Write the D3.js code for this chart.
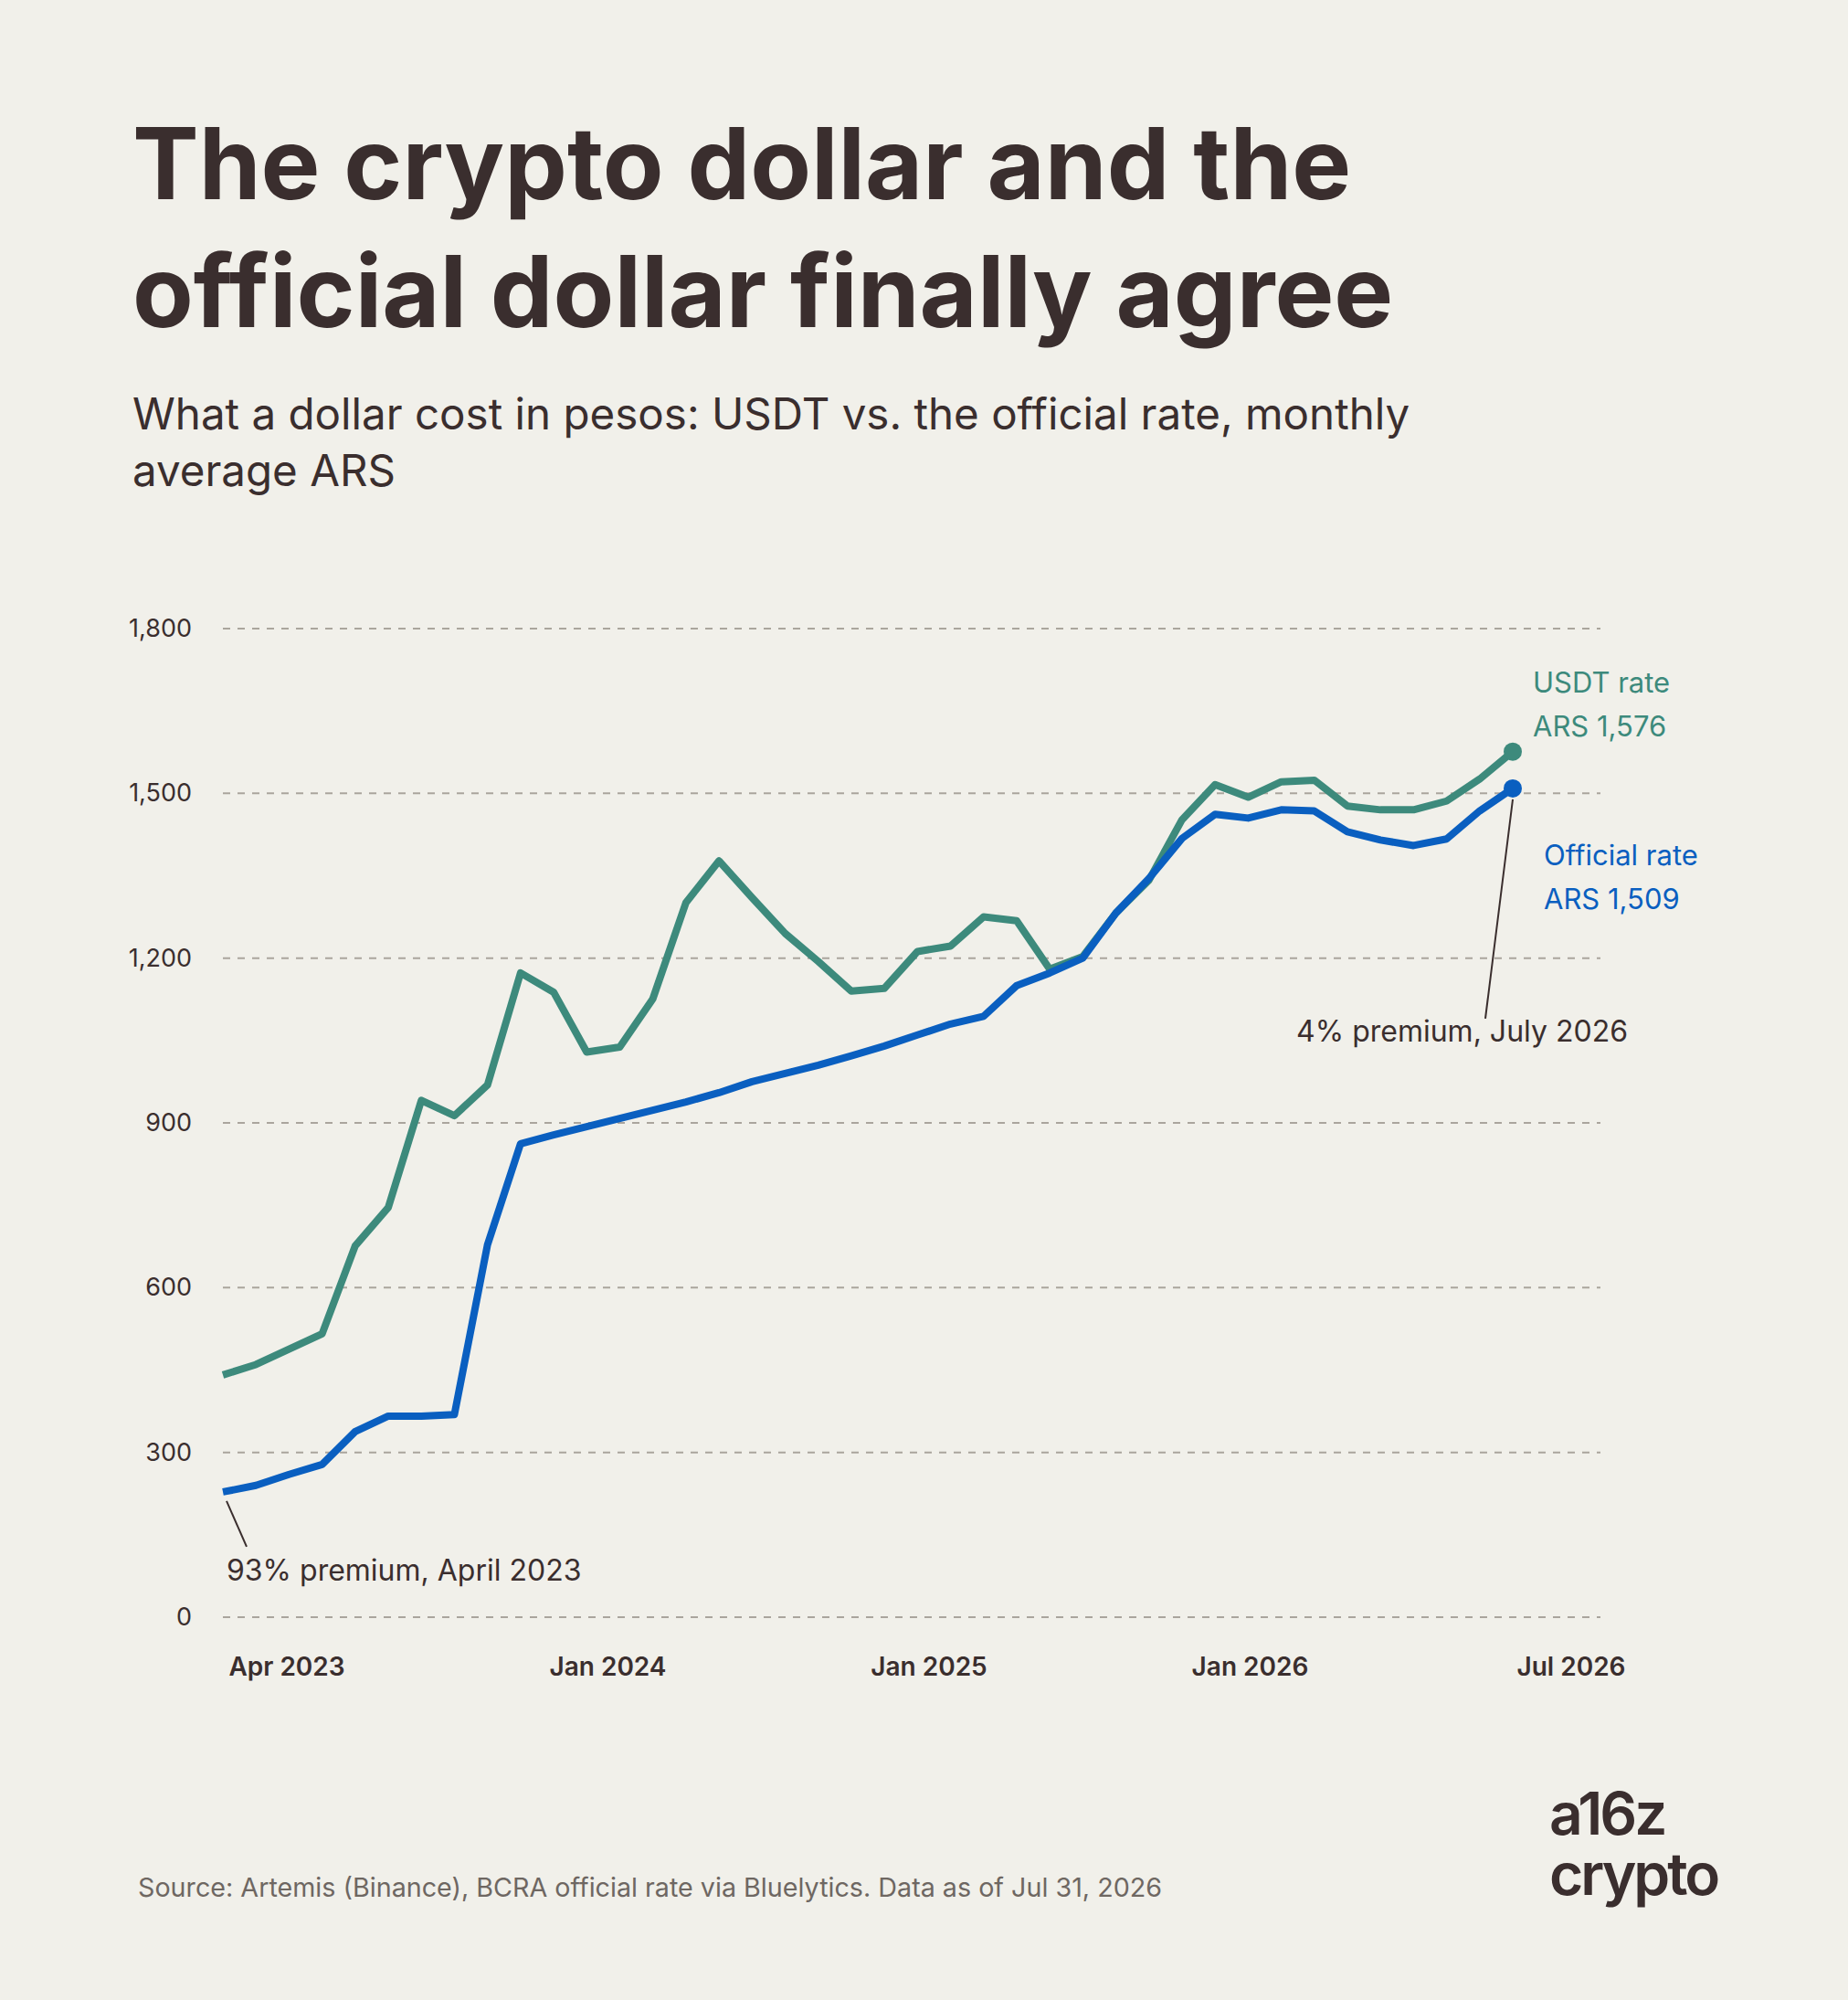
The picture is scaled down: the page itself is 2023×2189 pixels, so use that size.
<!DOCTYPE html><html><head><meta charset="utf-8"><script src="https://cdn.jsdelivr.net/npm/d3@7"></script>
<style>body{margin:0;background:#f1f0ea}</style></head><body><svg id="c" width="2023" height="2189"></svg><script>
const usdt=[441,460,488,516,676,746,941,913,969,1173,1138,1029,1038,1126,1301,1377,1310,1245,1194,1140,1145,1212,1222,1275,1268,1180,1203,1282,1342,1452,1516,1493,1521,1524,1477,1470,1470,1486,1526,1576];
const official=[228,240,260,278,338,366,366,369,678,862,878,893,908,923,938,955,975,990,1005,1022,1040,1060,1080,1094,1150,1173,1200,1282,1345,1418,1462,1455,1470,1468,1430,1415,1405,1417,1468,1509];
const xTickLabels=["Apr 2023","Jan 2024","Jan 2025","Jan 2026","Jul 2026"];
const yTicks=[0,300,600,900,1200,1500,1800];
const ink="#3a2e2e",green="#3d8a7c",blue="#0a5fc0",font="Inter, 'Noto Sans', sans-serif";
const svg=d3.select("#c");
svg.append("rect").attr("width",2023).attr("height",2189).attr("fill","#f1f0ea");
const t=svg.append("g").attr("font-family",font).attr("fill",ink);
t.append("text").attr("x",145).attr("y",218).attr("font-size",109).attr("font-weight",700).text("The crypto dollar and the");
t.append("text").attr("x",145).attr("y",358).attr("font-size",109).attr("font-weight",700).text("official dollar finally agree");
t.append("text").attr("x",145).attr("y",470).attr("font-size",47.5).text("What a dollar cost in pesos: USDT vs. the official rate, monthly");
t.append("text").attr("x",145).attr("y",532).attr("font-size",47.5).text("average ARS");
const x=d3.scaleLinear().domain([0,usdt.length-1]).range([244,1656]);
const y=d3.scaleLinear().domain([0,1800]).range([1770,688]);
const xt=d3.scalePoint().domain(xTickLabels).range([314,1720]);
const g=svg.append("g");
yTicks.forEach(v=>{
 g.append("line").attr("x1",244).attr("x2",1752).attr("y1",y(v)).attr("y2",y(v)).attr("stroke","#aaa59d").attr("stroke-width",2).attr("stroke-dasharray","8,8");
 g.append("text").attr("x",210).attr("y",y(v)+9).attr("text-anchor","end").attr("font-family",font).attr("font-size",27).attr("fill",ink).text(d3.format(",")(v));
});
xTickLabels.forEach(l=>g.append("text").attr("x",xt(l)).attr("y",1834).attr("text-anchor","middle").attr("font-family",font).attr("font-size",28).attr("font-weight",600).attr("fill",ink).text(l));
const line=d3.line().x((d,i)=>x(i)).y(d=>y(d)).curve(d3.curveLinear);
[[usdt,green],[official,blue]].forEach(([d,c])=>{
 g.append("path").attr("d",line(d)).attr("fill","none").attr("stroke",c).attr("stroke-width",8).attr("stroke-linejoin","round");
 g.append("circle").attr("cx",x(d.length-1)).attr("cy",y(d[d.length-1])).attr("r",10).attr("fill",c);
});
const n=usdt.length-1;
g.append("line").attr("x1",x(0)+4).attr("y1",y(official[0])+10).attr("x2",x(0)+26).attr("y2",y(official[0])+60).attr("stroke",ink).attr("stroke-width",2);
g.append("text").attr("x",248).attr("y",1730).attr("font-family",font).attr("font-size",32).attr("fill",ink).text("93% premium, April 2023");
g.append("line").attr("x1",x(n)).attr("y1",y(official[n])+12).attr("x2",x(n)-30).attr("y2",y(official[n])+252).attr("stroke",ink).attr("stroke-width",2);
g.append("text").attr("x",1782).attr("y",1140).attr("text-anchor","end").attr("font-family",font).attr("font-size",32).attr("fill",ink).text("4% premium, July 2026");
g.append("text").attr("x",1678).attr("y",758).attr("font-family",font).attr("font-size",31).attr("fill",green).text("USDT rate");
g.append("text").attr("x",1678).attr("y",806).attr("font-family",font).attr("font-size",31).attr("fill",green).text("ARS "+d3.format(",")(usdt[n]));
g.append("text").attr("x",1690).attr("y",947).attr("font-family",font).attr("font-size",31).attr("fill",blue).text("Official rate");
g.append("text").attr("x",1690).attr("y",995).attr("font-family",font).attr("font-size",31).attr("fill",blue).text("ARS "+d3.format(",")(official[n]));
t.append("text").attr("x",151).attr("y",2076).attr("font-size",28.7).attr("fill","#6e6762").text("Source: Artemis (Binance), BCRA official rate via Bluelytics. Data as of Jul 31, 2026");
t.append("text").attr("x",1696).attr("y",2008).attr("font-size",64).attr("font-weight",600).attr("letter-spacing",-3).text("a16z");
t.append("text").attr("x",1696).attr("y",2074).attr("font-size",64).attr("font-weight",600).attr("letter-spacing",-3).text("crypto");
</script></body></html>
